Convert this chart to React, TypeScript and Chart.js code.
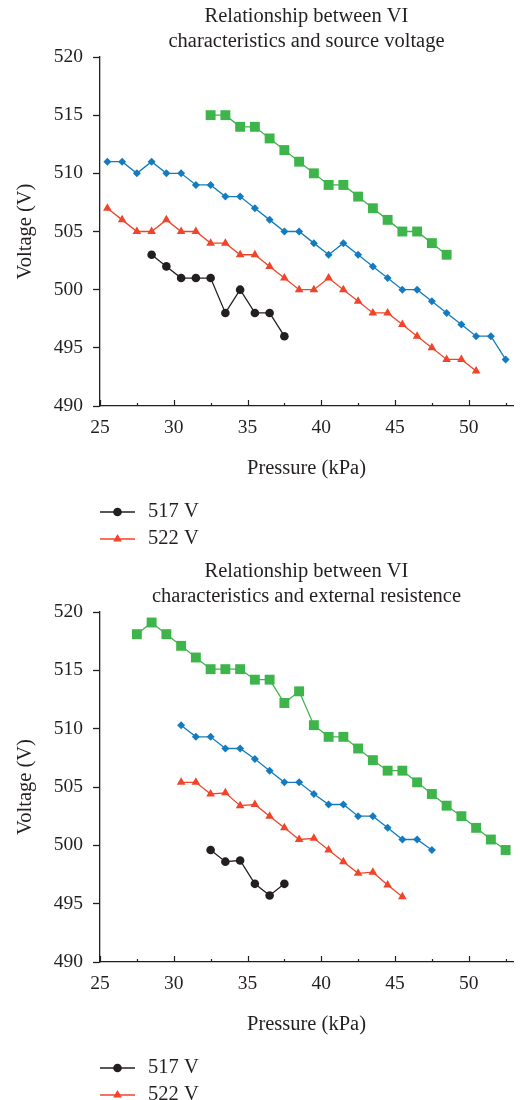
import React, { useEffect, useRef } from "react";
import { Chart, registerables } from "chart.js";

Chart.register(...registerables);

// ---- Data ----
const SERIES_NAMES = ["517 V", "522 V", "527 V", "532 V"];

// Chart 1: source voltage
const c1BlackX = [28.5, 29.5, 30.5, 31.5, 32.5, 33.5, 34.5, 35.5, 36.5, 37.5];
const c1BlackY = [503, 502, 501, 501, 501, 498, 500, 498, 498, 496];

const c1RedX = [25.5, 26.5, 27.5, 28.5, 29.5, 30.5, 31.5, 32.5, 33.5, 34.5, 35.5, 36.5, 37.5, 38.5, 39.5, 40.5, 41.5, 42.5, 43.5, 44.5, 45.5, 46.5, 47.5, 48.5, 49.5, 50.5];
const c1RedY = [507, 506, 505, 505, 506, 505, 505, 504, 504, 503, 503, 502, 501, 500, 500, 501, 500, 499, 498, 498, 497, 496, 495, 494, 494, 493];

const c1BlueX = [25.5, 26.5, 27.5, 28.5, 29.5, 30.5, 31.5, 32.5, 33.5, 34.5, 35.5, 36.5, 37.5, 38.5, 39.5, 40.5, 41.5, 42.5, 43.5, 44.5, 45.5, 46.5, 47.5, 48.5, 49.5, 50.5, 51.5, 52.5];
const c1BlueY = [511, 511, 510, 511, 510, 510, 509, 509, 508, 508, 507, 506, 505, 505, 504, 503, 504, 503, 502, 501, 500, 500, 499, 498, 497, 496, 496, 494];

const c1GreenX = [32.5, 33.5, 34.5, 35.5, 36.5, 37.5, 38.5, 39.5, 40.5, 41.5, 42.5, 43.5, 44.5, 45.5, 46.5, 47.5, 48.5];
const c1GreenY = [515, 515, 514, 514, 513, 512, 511, 510, 509, 509, 508, 507, 506, 505, 505, 504, 503];

// Chart 2: external resistance
const c2BlackX = [32.5, 33.5, 34.5, 35.5, 36.5, 37.5];
const c2BlackY = [499.6, 498.6, 498.7, 496.7, 495.7, 496.7];

const c2RedX = [30.5, 31.5, 32.5, 33.5, 34.5, 35.5, 36.5, 37.5, 38.5, 39.5, 40.5, 41.5, 42.5, 43.5, 44.5, 45.5];
const c2RedY = [505.4, 505.4, 504.4, 504.5, 503.4, 503.5, 502.5, 501.5, 500.5, 500.6, 499.6, 498.6, 497.6, 497.7, 496.6, 495.6];

const c2BlueX = [30.5, 31.5, 32.5, 33.5, 34.5, 35.5, 36.5, 37.5, 38.5, 39.5, 40.5, 41.5, 42.5, 43.5, 44.5, 45.5, 46.5, 47.5];
const c2BlueY = [510.3, 509.3, 509.3, 508.3, 508.3, 507.4, 506.4, 505.4, 505.4, 504.4, 503.5, 503.5, 502.5, 502.5, 501.5, 500.5, 500.5, 499.6];

const c2GreenX = [27.5, 28.5, 29.5, 30.5, 31.5, 32.5, 33.5, 34.5, 35.5, 36.5, 37.5, 38.5, 39.5, 40.5, 41.5, 42.5, 43.5, 44.5, 45.5, 46.5, 47.5, 48.5, 49.5, 50.5, 51.5, 52.5];
const c2GreenY = [518.1, 519.1, 518.1, 517.1, 516.1, 515.1, 515.1, 515.1, 514.2, 514.2, 512.2, 513.2, 510.3, 509.3, 509.3, 508.3, 507.3, 506.4, 506.4, 505.4, 504.4, 503.4, 502.5, 501.5, 500.5, 499.6];

const X_MIN = 25;
const X_MAX = 53;
const X_MAJOR_TICKS = [25, 30, 35, 40, 45, 50];
const X_MINOR_TICKS = [27.5, 32.5, 37.5, 42.5, 47.5, 52.5];
const Y_MIN = 490;
const Y_MAX = 520;
const Y_STEP = 5;
const LEGEND_SHOWN = 2;

const TITLE1 = ["Relationship between VI", "characteristics and source voltage"];
const TITLE2 = ["Relationship between VI", "characteristics and external resistence"];
const X_TITLE = "Pressure (kPa)";
const Y_TITLE = "Voltage (V)";

const TEXT = "#231f20";
const FONT = "'Liberation Serif', 'DejaVu Serif', serif";
const TEXT_SIZE = 20.5;
const TICK_SIZE = 19.5;
const STYLES = [
  { color: "#231f20", pointStyle: "circle", radius: 4.3 },
  { color: "#f0452a", pointStyle: "triangle", radius: 5 },
  { color: "#137cc0", pointStyle: "rectRot", radius: 4 },
  { color: "#3db54a", pointStyle: "rect", radius: 7 },
];

const zip = (xs: number[], ys: number[]) => xs.map((x, i) => ({ x, y: ys[i] }));

function drawMarker(ctx: CanvasRenderingContext2D, style: string, r: number, x: number, y: number) {
  ctx.beginPath();
  if (style === "circle") {
    ctx.arc(x, y, r, 0, Math.PI * 2);
  } else if (style === "triangle") {
    const a = 0;
    ctx.moveTo(x + Math.sin(a) * r, y - Math.cos(a) * r);
    ctx.lineTo(x + Math.sin(a + (2 * Math.PI) / 3) * r, y - Math.cos(a + (2 * Math.PI) / 3) * r);
    ctx.lineTo(x + Math.sin(a - (2 * Math.PI) / 3) * r, y - Math.cos(a - (2 * Math.PI) / 3) * r);
    ctx.closePath();
  }
  ctx.fill();
}

const axisPlugin = {
  id: "customAxisAndLegend",
  afterDraw(chart: any) {
    const ctx = chart.ctx;
    const xs = chart.scales.x;
    const area = chart.chartArea;
    ctx.save();
    ctx.strokeStyle = TEXT;
    ctx.lineWidth = 1.2;
    // x ticks pointing inward
    const drawTick = (v: number, len: number) => {
      const px = Math.round(xs.getPixelForValue(v)) + 0.5;
      ctx.beginPath();
      ctx.moveTo(px, area.bottom);
      ctx.lineTo(px, area.bottom - len);
      ctx.stroke();
    };
    X_MAJOR_TICKS.forEach((v) => drawTick(v, 6));
    X_MINOR_TICKS.forEach((v) => drawTick(v, 3));

    // legend (first items, stacked vertically)
    const ds = chart.data.datasets;
    for (let i = 0; i < LEGEND_SHOWN; i++) {
      const d = ds[i];
      const yy = area.bottom + 106 + i * 27;
      const x0 = 100;
      const x1 = 135;
      ctx.strokeStyle = d.borderColor;
      ctx.lineWidth = 1.5;
      ctx.beginPath();
      ctx.moveTo(x0, yy);
      ctx.lineTo(x1, yy);
      ctx.stroke();
      ctx.fillStyle = d.pointBackgroundColor;
      drawMarker(ctx, d.pointStyle, d.pointRadius, (x0 + x1) / 2, yy);
      ctx.fillStyle = TEXT;
      ctx.font = `${TEXT_SIZE}px ${FONT}`;
      ctx.textBaseline = "middle";
      ctx.textAlign = "left";
      ctx.fillText(d.label, 148, yy);
    }
    ctx.restore();
  },
};

function buildConfig(title: string[], data: { x: number; y: number }[][]) {
  return {
    type: "line" as const,
    data: {
      datasets: data.map((pts, i) => ({
        label: SERIES_NAMES[i],
        data: pts,
        borderColor: STYLES[i].color,
        backgroundColor: STYLES[i].color,
        pointBackgroundColor: STYLES[i].color,
        pointBorderColor: STYLES[i].color,
        pointStyle: STYLES[i].pointStyle,
        pointRadius: STYLES[i].radius,
        pointBorderWidth: 0,
        borderWidth: 1.3,
        tension: 0,
        fill: false,
      })),
    },
    options: {
      animation: false,
      responsive: false,
      maintainAspectRatio: false,
      layout: { padding: { left: 0, right: 7, top: 0, bottom: 0 } },
      plugins: {
        legend: { display: false },
        tooltip: { enabled: false },
        title: {
          display: true,
          fullSize: false,
          text: title,
          color: TEXT,
          font: { family: FONT, size: TEXT_SIZE, weight: "normal", lineHeight: "25px" },
          padding: { top: 4.5, bottom: 2.5 },
        },
      },
      scales: {
        x: {
          type: "linear",
          min: X_MIN,
          max: X_MAX,
          afterBuildTicks: (scale: any) => {
            scale.ticks = X_MAJOR_TICKS.map((v) => ({ value: v }));
          },
          afterFit: (scale: any) => {
            scale.height = 75;
          },
          grid: { display: true, drawOnChartArea: false, drawTicks: false },
          border: { display: true, color: TEXT, width: 1.3 },
          ticks: {
            color: TEXT,
            font: { family: FONT, size: TICK_SIZE },
            padding: 10,
            maxRotation: 0,
            autoSkip: false,
          },
          title: {
            display: true,
            text: X_TITLE,
            color: TEXT,
            font: { family: FONT, size: TEXT_SIZE },
            padding: { top: 0, bottom: 0 },
          },
        },
        y: {
          type: "linear",
          min: Y_MIN,
          max: Y_MAX,
          afterFit: (scale: any) => {
            scale.width = 100;
          },
          grid: { display: true, drawOnChartArea: false, drawTicks: true, tickLength: 7, tickColor: TEXT, tickWidth: 1.3 },
          border: { display: true, color: TEXT, width: 1.3 },
          ticks: {
            stepSize: Y_STEP,
            color: TEXT,
            font: { family: FONT, size: TICK_SIZE },
            padding: 10,
          },
          title: {
            display: true,
            text: Y_TITLE,
            color: TEXT,
            font: { family: FONT, size: TEXT_SIZE },
            padding: { top: 13, bottom: 0 },
          },
        },
      },
    },
    plugins: [axisPlugin],
  };
}

function LineChart({ title, data, height, bottomPad, top }: { title: string[]; data: { x: number; y: number }[][]; height: number; bottomPad: number; top: number }) {
  const ref = useRef<HTMLCanvasElement>(null);
  useEffect(() => {
    if (!ref.current) return;
    const cfg: any = buildConfig(title, data);
    cfg.options.layout.padding.bottom = bottomPad;
    const chart = new Chart(ref.current, cfg);
    return () => chart.destroy();
  }, []);
  return (
    <div style={{ position: "absolute", left: 0, top, width: 520, height }}>
      <canvas ref={ref} width={520} height={height} style={{ width: 520, height, display: "block" }} />
    </div>
  );
}

export default function App() {
  const d1 = [zip(c1BlackX, c1BlackY), zip(c1RedX, c1RedY), zip(c1BlueX, c1BlueY), zip(c1GreenX, c1GreenY)];
  const d2 = [zip(c2BlackX, c2BlackY), zip(c2RedX, c2RedY), zip(c2BlueX, c2BlueY), zip(c2GreenX, c2GreenY)];
  return (
    <div style={{ position: "absolute", left: 0, top: 0, width: 520, height: 1100, background: "#fff" }}>
      <LineChart title={TITLE1} data={d1} height={555} bottomPad={74} top={0} />
      <LineChart title={TITLE2} data={d2} height={545} bottomPad={63} top={555} />
    </div>
  );
}
